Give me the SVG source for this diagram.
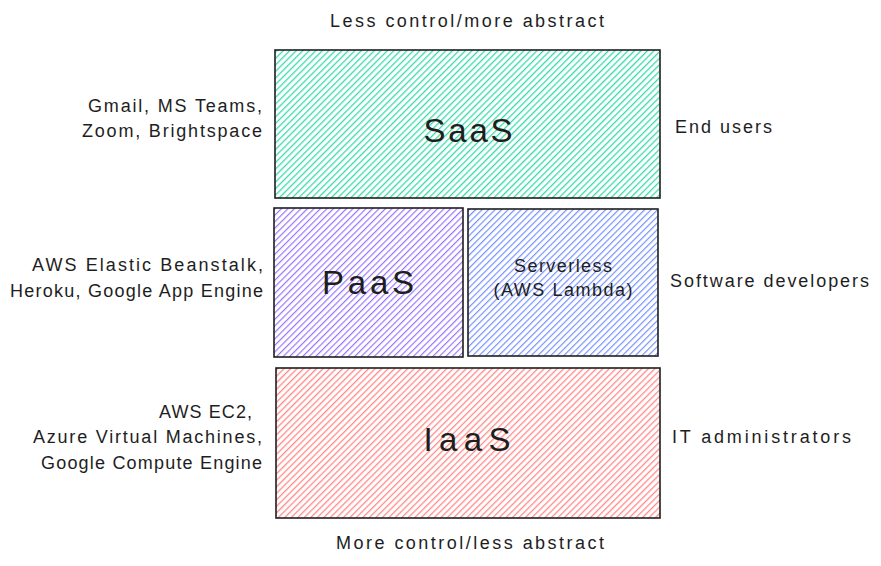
<svg xmlns="http://www.w3.org/2000/svg" width="881" height="566" viewBox="0 0 881 566">
<style>
text{font-family:"Liberation Sans","DejaVu Sans",sans-serif;fill:#1e1e1e}
.s{font-size:18px}
.b{font-size:33px}
.m{font-size:18px}
.box{stroke:#1e1e1e;stroke-width:1.6}
</style>
<defs>
<pattern id="hg" width="4.6" height="10" patternUnits="userSpaceOnUse" patternTransform="rotate(45)">
<line x1="1.5" y1="0" x2="1.5" y2="10" stroke="#38d9a9" stroke-width="1.3"/>
</pattern>
<pattern id="hp" width="4.6" height="10" patternUnits="userSpaceOnUse" patternTransform="rotate(45)">
<line x1="1.5" y1="0" x2="1.5" y2="10" stroke="#9775fa" stroke-width="1.2"/>
</pattern>
<pattern id="hb" width="4.6" height="10" patternUnits="userSpaceOnUse" patternTransform="rotate(45)">
<line x1="1.5" y1="0" x2="1.5" y2="10" stroke="#748ffc" stroke-width="1.2"/>
</pattern>
<pattern id="hr" width="4.6" height="10" patternUnits="userSpaceOnUse" patternTransform="rotate(45)">
<line x1="1.5" y1="0" x2="1.5" y2="10" stroke="#ff8787" stroke-width="1.3"/>
</pattern>
</defs>
<rect width="881" height="566" fill="#ffffff"/>
<text class="s" x="467" y="27" text-anchor="middle" textLength="274">Less control/more abstract</text>
<text class="s" x="470" y="549" text-anchor="middle" textLength="268">More control/less abstract</text>
<g id="saas">
<rect class="box" x="275" y="50" width="385" height="148" fill="url(#hg)"/>
<text class="b" x="468" y="142" text-anchor="middle" textLength="89">SaaS</text>
</g>
<g id="paas">
<rect class="box" x="274" y="208" width="189" height="149" fill="url(#hp)"/>
<text class="b" x="368" y="294" text-anchor="middle" textLength="92">PaaS</text>
</g>
<g id="serverless">
<rect class="box" x="468" y="209" width="190" height="147" fill="url(#hb)"/>
<text class="m" x="563" y="272" text-anchor="middle" textLength="98">Serverless</text>
<text class="m" x="563" y="296" text-anchor="middle" textLength="139">(AWS Lambda)</text>
</g>
<g id="iaas">
<rect class="box" x="276" y="368" width="384" height="150" fill="url(#hr)"/>
<text class="b" x="467" y="451" text-anchor="middle" textLength="87">IaaS</text>
</g>
<g id="saas-examples">
<text class="s" x="262" y="112" text-anchor="end" textLength="174">Gmail, MS Teams,</text>
<text class="s" x="262" y="137" text-anchor="end" textLength="180">Zoom, Brightspace</text>
</g>
<g id="saas-users"><text class="s" x="675" y="133" textLength="97">End users</text></g>
<g id="paas-examples">
<text class="s" x="263" y="271" text-anchor="end" textLength="231">AWS Elastic Beanstalk,</text>
<text class="s" x="263" y="297" text-anchor="end" textLength="253">Heroku, Google App Engine</text>
</g>
<g id="paas-users"><text class="s" x="670" y="287" textLength="199">Software developers</text></g>
<g id="iaas-examples">
<text class="s" x="252" y="418" text-anchor="end" textLength="93">AWS EC2,</text>
<text class="s" x="262" y="443" text-anchor="end" textLength="229">Azure Virtual Machines,</text>
<text class="s" x="262" y="469" text-anchor="end" textLength="221">Google Compute Engine</text>
</g>
<g id="iaas-users"><text class="s" x="672" y="443" textLength="179">IT administrators</text></g>
<g id="connectors"></g>
</svg>
